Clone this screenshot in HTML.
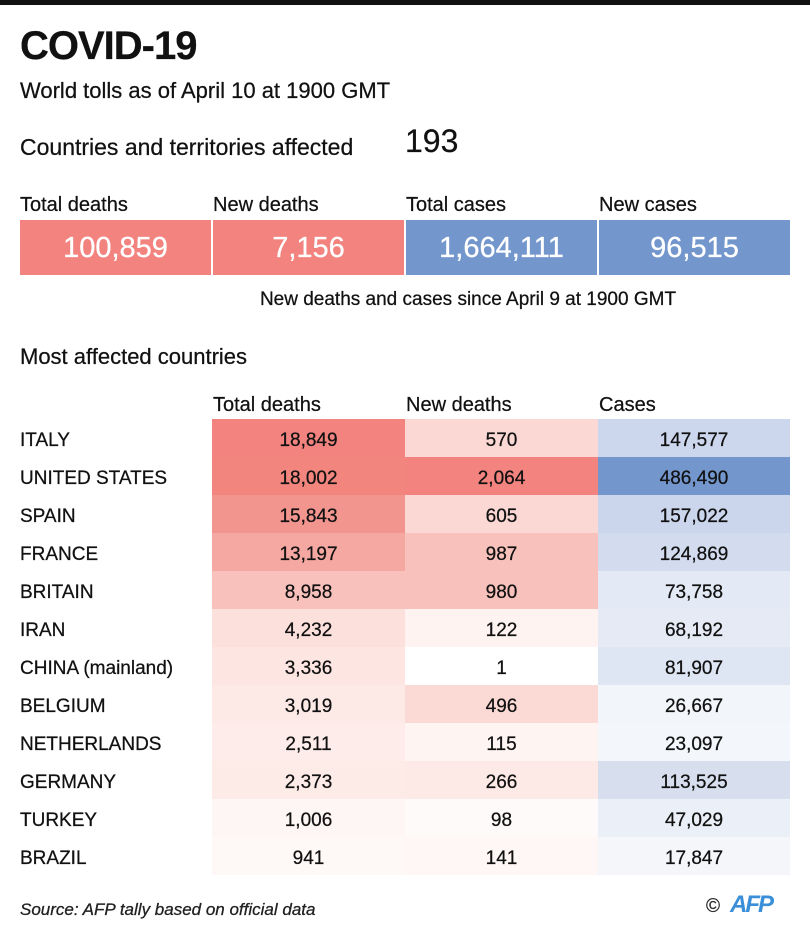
<!DOCTYPE html><html><head><style>
body{margin:0;width:810px;height:937px;background:#fff;position:relative;overflow:hidden;font-family:"Liberation Sans Narrow","Liberation Sans",sans-serif;color:#111;-webkit-text-stroke:0.25px #111}
div{position:absolute;white-space:nowrap}
.c{text-align:center}
.r{height:38px;line-height:44px;font-size:19px}
.w{-webkit-text-stroke:0.3px #fff}
</style></head><body>
<div style="left:0;top:0;width:810px;height:5px;background:#111"></div>
<div style="left:20px;top:24px;font-size:40px;font-weight:bold;letter-spacing:-1px">COVID-19</div>
<div style="left:20px;top:78px;font-size:22px">World tolls as of April 10 at 1900 GMT</div>
<div style="left:20px;top:134px;font-size:23px">Countries and territories affected</div>
<div style="left:405px;top:123px;font-size:32px">193</div>
<div style="left:20px;top:194px;font-size:20px">Total deaths</div>
<div style="left:213px;top:194px;font-size:20px">New deaths</div>
<div style="left:406px;top:194px;font-size:20px">Total cases</div>
<div style="left:599px;top:194px;font-size:20px">New cases</div>
<div class="c w" style="left:20px;top:220px;width:191px;height:55px;line-height:56px;background:#f2837e;color:#fff;font-size:29px">100,859</div>
<div class="c w" style="left:213px;top:220px;width:191px;height:55px;line-height:56px;background:#f2837e;color:#fff;font-size:29px">7,156</div>
<div class="c w" style="left:406px;top:220px;width:191px;height:55px;line-height:56px;background:#7396cc;color:#fff;font-size:29px">1,664,111</div>
<div class="c w" style="left:599px;top:220px;width:191px;height:55px;line-height:56px;background:#7396cc;color:#fff;font-size:29px">96,515</div>
<div class="c" style="left:212px;top:289px;width:512px;font-size:19px">New deaths and cases since April 9 at 1900 GMT</div>
<div style="left:20px;top:344px;font-size:22px">Most affected countries</div>
<div style="left:213px;top:394px;font-size:20px">Total deaths</div>
<div style="left:406px;top:394px;font-size:20px">New deaths</div>
<div style="left:599px;top:394px;font-size:20px">Cases</div>
<div id="t"></div>
<div style="left:20px;top:900px;font-size:17px;font-style:italic;color:#222">Source: AFP tally based on official data</div>
<div style="left:706px;top:896px;font-size:19px;color:#333">©</div>
<div style="left:730px;top:891px;font-size:24px;font-weight:bold;font-style:italic;color:#3a8fd8;letter-spacing:-2px;-webkit-text-stroke:0">AFP</div>
<script>
var d=[["ITALY","18,849","#f2837e","570","#fbd8d3","147,577","#ccd6ec"],
["UNITED STATES","18,002","#f2867f","2,064","#f2837e","486,490","#7396cc"],
["SPAIN","15,843","#f3958f","605","#fbd8d3","157,022","#cbd5eb"],
["FRANCE","13,197","#f5a8a2","987","#f8c1bb","124,869","#d3dcef"],
["BRITAIN","8,958","#f8c1bb","980","#f8c1bb","73,758","#e3e9f5"],
["IRAN","4,232","#fce0dc","122","#fef3f1","68,192","#e5eaf5"],
["CHINA (mainland)","3,336","#fde6e2","1","#ffffff","81,907","#dfe6f3"],
["BELGIUM","3,019","#fdeae7","496","#fbdad5","26,667","#f2f5fa"],
["NETHERLANDS","2,511","#fdece9","115","#fef4f2","23,097","#f3f6fa"],
["GERMANY","2,373","#fdebe8","266","#fde9e5","113,525","#d7dfef"],
["TURKEY","1,006","#fef6f4","98","#fefaf9","47,029","#ebeff7"],
["BRAZIL","941","#fef8f7","141","#fef7f6","17,847","#f4f6fa"]];
var h="";d.forEach(function(r,i){var y=419+38*i;
h+='<div class="r" style="left:20px;top:'+y+'px">'+r[0]+'</div>';
h+='<div class="r c" style="left:212px;top:'+y+'px;width:193px;background:'+r[2]+'">'+r[1]+'</div>';
h+='<div class="r c" style="left:405px;top:'+y+'px;width:193px;background:'+r[4]+'">'+r[3]+'</div>';
h+='<div class="r c" style="left:598px;top:'+y+'px;width:192px;background:'+r[6]+'">'+r[5]+'</div>';});
document.getElementById("t").outerHTML=h;
</script>
</body></html>
